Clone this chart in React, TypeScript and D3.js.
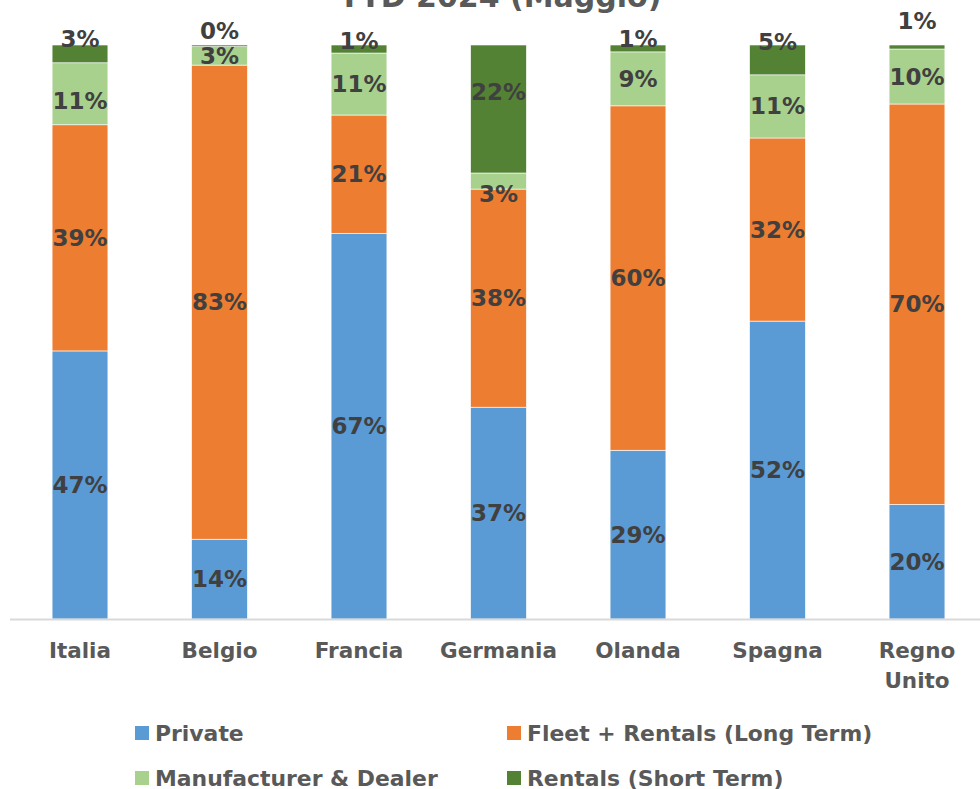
import React from "react";
import * as d3 from "d3";

const categories = ["Italia", "Belgio", "Francia", "Germania", "Olanda", "Spagna", "Regno Unito"];
const seriesNames = ["Private", "Fleet + Rentals (Long Term)", "Manufacturer & Dealer", "Rentals (Short Term)"];
const privateVals = [46.7, 13.9, 67.2, 36.9, 29.4, 51.9, 20.0];
const fleetVals = [39.4, 82.6, 20.6, 38.0, 60.0, 31.9, 69.9];
const dealerVals = [10.8, 3.2, 10.8, 2.8, 9.4, 11.0, 9.6];
const shortVals = [3.1, 0.3, 1.4, 22.3, 1.2, 5.2, 0.7];
// manual label nudges (px) as in the original chart
const dealerLabelDy = [7, 0, 0, 13, 0, 0, 0];
const shortLabelDy = [-15, -15, -8, -17, -9, -18, -26];

const colors = ["#5B9BD5", "#ED7D31", "#A9D18E", "#548235"];
const W = 980, H = 789;
const top = 45, bottom = 619;
const FONT = "'DejaVu Sans', sans-serif";

export default function App() {
  const seriesVals = [privateVals, fleetVals, dealerVals, shortVals];
  const rows = categories.map((c, i) => {
    const o: any = { cat: c };
    seriesNames.forEach((s, k) => (o[s] = seriesVals[k][i]));
    return o;
  });
  const stack = d3.stack<any>().keys(seriesNames).offset(d3.stackOffsetExpand);
  const stacked = stack(rows);
  const x = d3.scaleBand().domain(categories).range([10.25, 986.75]).paddingInner(0.6).paddingOuter(0.3);
  const y = d3.scaleLinear().domain([0, 1]).range([bottom, top]);
  const fmt = (v: number) => `${Math.round(v)}%`;

  return (
    <svg width={W} height={H} style={{ position: "absolute", left: 0, top: 0, background: "#fff" }}>
      <text x={500} y={7} textAnchor="middle" fontFamily={FONT} fontWeight="bold" fontSize={30} fill="#595959">
        YTD 2024 (Maggio)
      </text>
      {stacked.map((s, k) => (
        <g key={s.key}>
          {s.map((d, i) => (
            <rect key={i} x={x(categories[i])} width={x.bandwidth()} y={y(d[1])} height={Math.max(0, y(d[0]) - y(d[1]))}
              fill={colors[k]} stroke="#fff" strokeWidth={0.6} />
          ))}
        </g>
      ))}
      <line x1={10} x2={980} y1={bottom + 0.5} y2={bottom + 0.5} stroke="#D9D9D9" strokeWidth={2} />
      {stacked.map((s, k) => (
        <g key={"l" + s.key}>
          {s.map((d, i) => {
            const dy = k === 2 ? dealerLabelDy[i] : k === 3 ? shortLabelDy[i] : 0;
            return (
              <text key={i} x={(x(categories[i]) as number) + x.bandwidth() / 2} y={(y(d[0]) + y(d[1])) / 2 + dy}
                textAnchor="middle" dominantBaseline="central" fontFamily={FONT} fontWeight="bold" fontSize={23} fill="#404040">
                {fmt(seriesVals[k][i])}
              </text>
            );
          })}
        </g>
      ))}
      {categories.map((c) => {
        const cx = (x(c) as number) + x.bandwidth() / 2;
        const parts = c === "Regno Unito" ? ["Regno", "Unito"] : [c];
        return (
          <text key={c} x={cx} y={650} textAnchor="middle" dominantBaseline="central" fontFamily={FONT} fontWeight="bold" fontSize={21.5} fill="#595959">
            {parts.map((p, j) => (
              <tspan key={j} x={cx} dy={j === 0 ? 0 : 30}>{p}</tspan>
            ))}
          </text>
        );
      })}
      {seriesNames.map((s, k) => {
        const lx = k % 2 === 0 ? 135 : 507;
        const ly = k < 2 ? 733 : 778;
        return (
          <g key={s}>
            <rect x={lx} y={ly - 7} width={14} height={14} fill={colors[k]} />
            <text x={lx + 20} y={ly} dominantBaseline="central" fontFamily={FONT} fontWeight="bold" fontSize={21.9} fill="#595959">{s}</text>
          </g>
        );
      })}
    </svg>
  );
}
